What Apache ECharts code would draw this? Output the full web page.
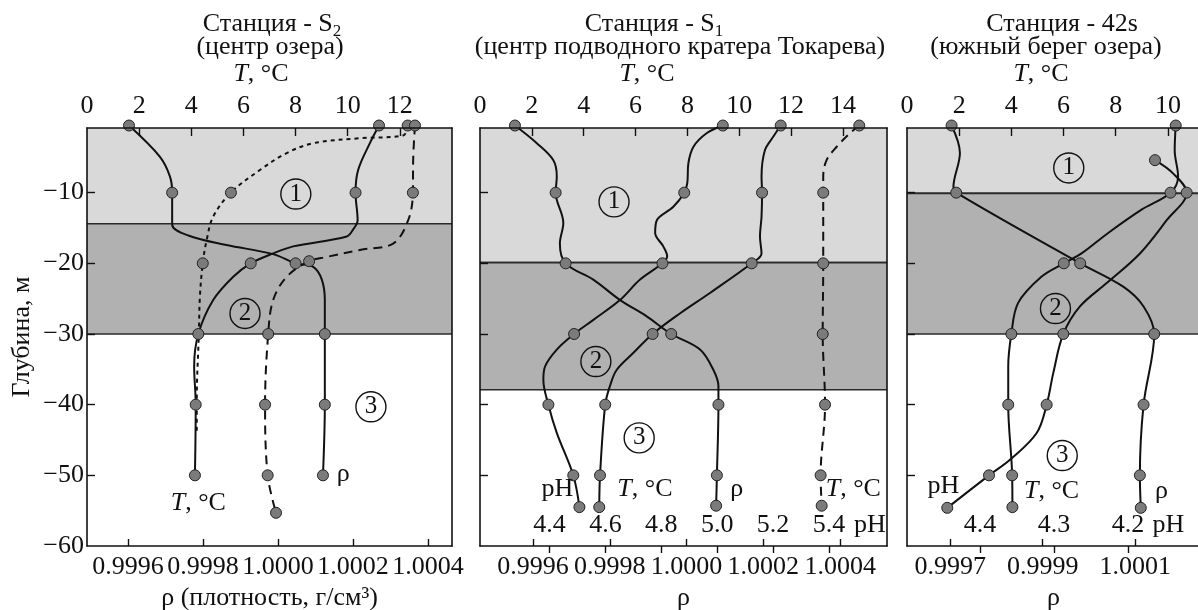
<!DOCTYPE html>
<html>
<head>
<meta charset="utf-8">
<script src="https://cdn.jsdelivr.net/npm/echarts@6/dist/echarts.min.js"></script>
<style>
html,body{margin:0;padding:0;background:#fff}
#chart{width:1198px;height:610px}
</style>
</head>
<body>
<div id="chart"></div>
<script>
// each point: [value on its axis, depth (m), 1 = measured point / 0 = only shapes the curve]
var S2_RHO = [[0.999603,-0.5,1],[0.999685,-4.9,0],[0.999712,-7.7,0],[0.999718,-10,1],[0.999718,-14.5,0],
  [0.999763,-16.1,0],[0.999863,-17.4,0],[0.999987,-18.7,0],[1.000047,-20,1],[1.000094,-20.5,0],
  [1.000117,-22.3,0],[1.000125,-25.2,0],[1.000125,-30,1],[1.000125,-40,1],[1.00012,-50,1]];
var S2_T = [[11.20,-0.5,1],[10.85,-3.0,0],[10.40,-6.8,0],[10.30,-10,1],[10.38,-13.9,0],[10.21,-15.2,0],
  [9.96,-16.2,0],[7.91,-17.6,0],[7.14,-18.6,0],[6.28,-20,1],[5.61,-21.9,0],[4.84,-25.2,0],
  [4.27,-30,1],[4.11,-34.6,0],[4.17,-40,1],[4.14,-50,1]];
var S2_T_DOT = [[12.30,-0.5,1],[12.13,-1.9,0],[10.47,-2.3,0],[8.68,-3.0,0],[7.66,-4.4,0],[6.63,-6.8,0],
  [5.52,-10,1],[4.84,-13.4,0],[4.59,-16.7,0],[4.44,-20,1],[4.33,-24.7,0],[4.29,-30,0],
  [4.21,-39.3,0],[4.21,-44.0,0]];
var S2_T_DASH = [[12.58,-0.5,1],[12.51,-5.4,0],[12.50,-10,1],[12.32,-13.9,0],[11.74,-17.2,0],
  [10.47,-18.1,0],[9.19,-19.1,0],[8.52,-19.7,1],[7.66,-21.9,0],[7.14,-25.2,0],[6.95,-30,1],
  [6.83,-40,1],[6.93,-50,1],[7.25,-55.3,1]];

var S1_RHO = [[0.999553,-0.5,1],[0.999610,-3.0,0],[0.999653,-5.4,0],[0.999662,-7.7,0],[0.999659,-10,1],
  [0.999679,-14.3,0],[0.999670,-17.2,0],[0.999685,-20,1],[0.999757,-22.3,0],[0.999827,-25.2,0],
  [0.999896,-27.5,0],[0.999960,-30,1],[1.000035,-32.2,0],[1.000070,-35.1,0],[1.000083,-37.4,0],
  [1.000083,-40,1],[1.000079,-50,1],[1.000077,-54.3,1]];
var S1_PH = [[5.020,-0.5,1],[4.962,-1.6,0],[4.915,-3.5,0],[4.897,-5.8,0],[4.893,-8.6,0],[4.882,-10,1],
  [4.843,-12.0,0],[4.784,-13.9,0],[4.778,-15.7,0],[4.807,-17.6,0],[4.821,-19.0,0],[4.804,-20,1],
  [4.724,-22.3,0],[4.652,-25.2,0],[4.557,-28.0,0],[4.488,-30,1],[4.426,-32.2,0],[4.384,-34.6,0],
  [4.378,-36.5,0],[4.396,-40,1],[4.426,-44.0,0],[4.485,-50,1],[4.507,-54.5,1]];
var S1_T = [[11.60,-0.5,1],[11.31,-2.1,0],[10.99,-4.0,0],[10.86,-7.7,0],[10.88,-10,1],[10.86,-13.4,0],
  [10.80,-16.2,0],[10.86,-18.6,0],[10.48,-20,1],[8.87,-24.2,0],[7.71,-27.1,0],[6.66,-30,1],
  [5.91,-32.7,0],[5.27,-35.1,0],[5.01,-37.4,0],[4.83,-40,1],[4.63,-50,1],[4.60,-54.5,1]];
var S1_T_DASH = [[14.63,-0.5,1],[14.27,-1.6,0],[13.76,-3.5,0],[13.37,-5.4,0],[13.24,-7.7,0],
  [13.24,-10,1],[13.24,-20,1],[13.22,-30,1],[13.31,-40,1],[13.14,-50,1],[13.18,-54.3,1]];

var S42_RHO = [[0.999703,-0.5,1],[0.999721,-4.4,0],[0.999707,-9.2,0],[0.999713,-10,1],[0.999981,-20,1],
  [1.000074,-23.3,0],[1.000118,-26.1,0],[1.000141,-30,1],[1.000118,-40,1],[1.000110,-50,1],
  [1.000112,-54.6,1]];
var S42_T = [[10.30,-0.5,1],[10.26,-4.0,0],[10.39,-7.7,0],[10.10,-10,1],[8.99,-12.4,0],[7.71,-15.7,0],
  [6.69,-18.6,0],[6.01,-20,1],[5.15,-21.9,0],[4.26,-25.6,0],[4.00,-30,1],[3.88,-34.6,0],
  [3.88,-40,1],[4.03,-50,1],[4.04,-54.5,1]];
var S42_PH = [[4.1635,-5.4,1],[4.1388,-7.3,0],[4.1207,-10,1],[4.1477,-13.9,0],[4.1838,-18.6,0],
  [4.2288,-22.8,0],[4.2649,-26.1,0],[4.2874,-30,1],[4.3009,-35.5,0],[4.3099,-40,1],
  [4.3234,-44.0,0],[4.3595,-47.8,0],[4.3878,-50,1],[4.4442,-54.6,1]];

// layers: [upper depth, lower depth, shade 0 light / 1 dark]
var BANDS_S2 = [[-0.85,-14.4,0],[-14.4,-30,1]];
var BANDS_S1 = [[-0.85,-19.9,0],[-19.9,-37.9,1]];
var BANDS_42 = [[-0.85,-10.1,0],[-10.1,-30,1]];

// circled layer numbers, in T units of each panel: [T, depth, number]
var ZONES_S2 = [[8.01,-10.2,'1'],[6.06,-27.1,'2'],[10.89,-40.3,'3']];
var ZONES_S1 = [[5.17,-11.3,'1'],[4.47,-33.9,'2'],[6.14,-44.7,'3']];
var ZONES_42 = [[6.20,-6.5,'1'],[5.69,-26.4,'2'],[5.95,-47.2,'3']];

// curve names written next to the curves: [T, depth, key]
var NOTES_S2 = [[4.27,-53.9,'T'],[9.83,-49.9,'rho']];
var NOTES_S1 = [[2.99,-52.0,'pH'],[6.36,-52.0,'T'],[9.9,-52.0,'rho'],[14.4,-52.0,'T'],[15.04,-57.0,'pH']];
var NOTES_42 = [[1.39,-51.6,'pH'],[5.54,-52.3,'T'],[9.75,-52.3,'rho'],[10.02,-57.0,'pH']];

var T_TICKS_S2 = [0,2,4,6,8,10,12];
var T_TICKS_S1 = [0,2,4,6,8,10,12,14];
var T_TICKS_42 = [0,2,4,6,8,10];
var RHO_TICKS = [0.9996,0.9998,1.0000,1.0002,1.0004];
var RHO_TICKS_42 = [0.9997,0.9999,1.0001];
var PH_TICKS_S1 = [4.4,4.6,4.8,5.0,5.2,5.4];
var PH_TICKS_42 = [4.4,4.3,4.2];
var DEPTH_TICKS = [-60,-50,-40,-30,-20,-10];

var FONT = '"Liberation Serif","Times New Roman",serif';
var INK = '#111';
var FS = 26;
var LIGHT = '#d9d9d9', DARK = '#b1b1b1';

var myChart = echarts.init(document.getElementById('chart'));

function txt(extra){
  var o = {color: INK, fontFamily: FONT, fontSize: FS};
  for (var k in extra) o[k] = extra[k];
  return o;
}
var RICH = {i: txt({fontStyle: 'italic'})};

function tAxis(g, max, labels){
  return {type: 'value', gridIndex: g, position: 'top', min: 0, max: max, z: 5,
    axisLine: {show: true, onZero: false, lineStyle: {color: INK, width: 1.6}},
    axisTick: {show: true, inside: true, length: 8, customValues: labels.slice(1), lineStyle: {color: INK, width: 1.4}},
    axisLabel: {customValues: labels, margin: 9, color: INK, fontFamily: FONT, fontSize: FS},
    splitLine: {show: false}};
}
function rhoAxis(g, min, max, values, name){
  return {type: 'value', gridIndex: g, position: 'bottom', min: min, max: max, z: 5,
    name: name, nameLocation: 'middle', nameGap: 35, nameTextStyle: txt({}),
    axisLine: {show: true, onZero: false, lineStyle: {color: INK, width: 1.6}},
    axisTick: {show: true, inside: true, length: 7, customValues: values, lineStyle: {color: INK, width: 1.4}},
    axisLabel: {customValues: values, margin: 8, color: INK, fontFamily: FONT, fontSize: FS,
      formatter: function(v){ return v.toFixed(4); }},
    splitLine: {show: false}};
}
function phAxis(g, min, max, values, inverse){
  return {type: 'value', gridIndex: g, position: 'bottom', min: min, max: max, inverse: inverse, z: 5,
    axisLine: {show: false},
    axisTick: {show: true, inside: false, length: 7, customValues: values, lineStyle: {color: INK, width: 1.4}},
    axisLabel: {inside: true, customValues: values, margin: 8, color: INK, fontFamily: FONT, fontSize: FS,
      formatter: function(v){ return v.toFixed(1); }},
    splitLine: {show: false}};
}
function depthAxis(g, labels, name){
  return {type: 'value', gridIndex: g, position: 'left', min: -60, max: -0.85, z: 5,
    name: name || '', nameLocation: 'middle', nameGap: 52, nameRotate: 90, nameTextStyle: txt({}),
    axisLine: {show: true, onZero: false, lineStyle: {color: INK, width: 1.6}},
    axisTick: {show: true, inside: true, length: 8, customValues: DEPTH_TICKS.slice(1), lineStyle: {color: INK, width: 1.4}},
    axisLabel: {show: labels, customValues: DEPTH_TICKS, margin: 3, color: INK, fontFamily: FONT, fontSize: FS,
      formatter: function(v){ return String(v).replace('-', '\u2212'); }},
    splitLine: {show: false}};
}
function frameAxis(g){
  return {type: 'value', gridIndex: g, position: 'right', min: -60, max: -0.85, z: 5,
    axisLine: {show: true, onZero: false, lineStyle: {color: INK, width: 1.6}},
    axisTick: {show: false}, axisLabel: {show: false}, splitLine: {show: false}};
}

function bands(x, y, data){
  return {type: 'custom', xAxisIndex: x, yAxisIndex: y, z: 1, silent: true, data: data,
    renderItem: function(params, api){
      var cs = params.coordSys;
      var top = api.coord([0, api.value(0)])[1];
      var bot = api.coord([0, api.value(1)])[1];
      var kids = [
        {type: 'rect', shape: {x: cs.x, y: top, width: cs.width, height: bot - top},
          style: {fill: api.value(2) ? DARK : LIGHT}},
        {type: 'line', shape: {x1: cs.x, y1: bot, x2: cs.x + cs.width, y2: bot},
          style: {stroke: '#2a2a2a', lineWidth: 1.6}}
      ];
      if (api.value(2)) {
        kids.push({type: 'line', shape: {x1: cs.x, y1: top, x2: cs.x + cs.width, y2: top},
          style: {stroke: '#2a2a2a', lineWidth: 1.6}});
      }
      return {type: 'group', children: kids};
    }};
}
function curve(x, y, pts, dash){
  return {type: 'line', xAxisIndex: x, yAxisIndex: y, z: 4, clip: false, smooth: 0.35, silent: true,
    lineStyle: {color: INK, width: 2, type: dash || 'solid'},
    symbol: 'circle', symbolSize: 11,
    itemStyle: {color: '#7b7b7b', borderColor: '#222', borderWidth: 1},
    data: pts.map(function(p){ return {value: [p[0], p[1]], symbol: p[2] ? 'circle' : 'none'}; })};
}
function zones(x, y, data){
  return {type: 'scatter', xAxisIndex: x, yAxisIndex: y, z: 6, silent: true, clip: false,
    symbol: 'circle', symbolSize: 30,
    itemStyle: {color: 'rgba(0,0,0,0)', borderColor: INK, borderWidth: 1.4, opacity: 1},
    label: {show: true, position: 'inside', formatter: function(p){ return p.data[2]; },
      color: INK, fontFamily: FONT, fontSize: 25, opacity: 1},
    data: data};
}
var NOTE_TEXT = {T: '{i|T}, °C', rho: 'ρ', pH: 'pH'};
function notes(x, y, data){
  return {type: 'scatter', xAxisIndex: x, yAxisIndex: y, z: 6, silent: true, clip: false,
    symbolSize: 1, itemStyle: {color: 'rgba(0,0,0,0)', opacity: 1},
    label: {show: true, position: 'inside', formatter: function(p){ return NOTE_TEXT[p.data[2]]; },
      color: INK, fontFamily: FONT, fontSize: FS, opacity: 1, rich: RICH},
    data: data};
}

var TITLE_LINES = [
  [272, 24, '{a|Станция - S}{s|2}'], [270, 47, '(центр озера)'], [261, 74, '{i|T}, °C'],
  [654, 24, '{a|Станция - S}{s|1}'], [680, 47, '(центр подводного кратера Токарева)'], [647, 74, '{i|T}, °C'],
  [1062, 24, 'Станция - 42s'], [1046, 47, '(южный берег озера)'], [1041, 74, '{i|T}, °C']
];

var option = {
  animation: false,
  backgroundColor: '#fff',
  textStyle: {fontFamily: FONT},
  grid: [
    {left: 87, top: 128, width: 365, height: 418, outerBoundsMode: 'none', containLabel: false},
    {left: 480, top: 128, width: 407, height: 418, outerBoundsMode: 'none', containLabel: false},
    {left: 907, top: 128, width: 293, height: 418, outerBoundsMode: 'none', containLabel: false}
  ],
  xAxis: [
    tAxis(0, 14.0, T_TICKS_S2),
    rhoAxis(0, 0.999491, 1.000464, RHO_TICKS, 'ρ (плотность, г/см³)'),
    tAxis(1, 15.70, T_TICKS_S1),
    rhoAxis(1, 0.999462, 1.000522, RHO_TICKS, 'ρ'),
    phAxis(1, 4.1513, 5.6075, PH_TICKS_S1, false),
    tAxis(2, 11.23, T_TICKS_42),
    rhoAxis(2, 0.9996066, 1.00024, RHO_TICKS_42, 'ρ'),
    phAxis(2, 4.1027, 4.4986, PH_TICKS_42, true)
  ],
  yAxis: [
    depthAxis(0, true, 'Глубина, м'), frameAxis(0),
    depthAxis(1, false), frameAxis(1),
    depthAxis(2, false), frameAxis(2)
  ],
  graphic: TITLE_LINES.map(function(t){
    return {type: 'text', x: t[0], y: t[1], silent: true,
      style: {text: t[2], fill: INK, fontFamily: FONT, fontSize: FS, align: 'center', verticalAlign: 'middle',
        rich: {
          a: {fontFamily: FONT, fontSize: FS, lineHeight: 32, fill: INK},
          s: {fontFamily: FONT, fontSize: 17, lineHeight: 17, verticalAlign: 'bottom', fill: INK},
          i: {fontFamily: FONT, fontSize: FS, fontStyle: 'italic', fill: INK}
        }}};
  }),
  series: [
    bands(0, 0, BANDS_S2),
    curve(1, 0, S2_RHO),
    curve(0, 0, S2_T),
    curve(0, 0, S2_T_DOT, [4, 4]),
    curve(0, 0, S2_T_DASH, [9, 6]),
    zones(0, 0, ZONES_S2),
    notes(0, 0, NOTES_S2),

    bands(2, 2, BANDS_S1),
    curve(3, 2, S1_RHO),
    curve(4, 2, S1_PH),
    curve(2, 2, S1_T),
    curve(2, 2, S1_T_DASH, [9, 6]),
    zones(2, 2, ZONES_S1),
    notes(2, 2, NOTES_S1),

    bands(5, 4, BANDS_42),
    curve(6, 4, S42_RHO),
    curve(5, 4, S42_T),
    curve(7, 4, S42_PH),
    zones(5, 4, ZONES_42),
    notes(5, 4, NOTES_42)
  ]
};
myChart.setOption(option);
</script>
</body>
</html>
